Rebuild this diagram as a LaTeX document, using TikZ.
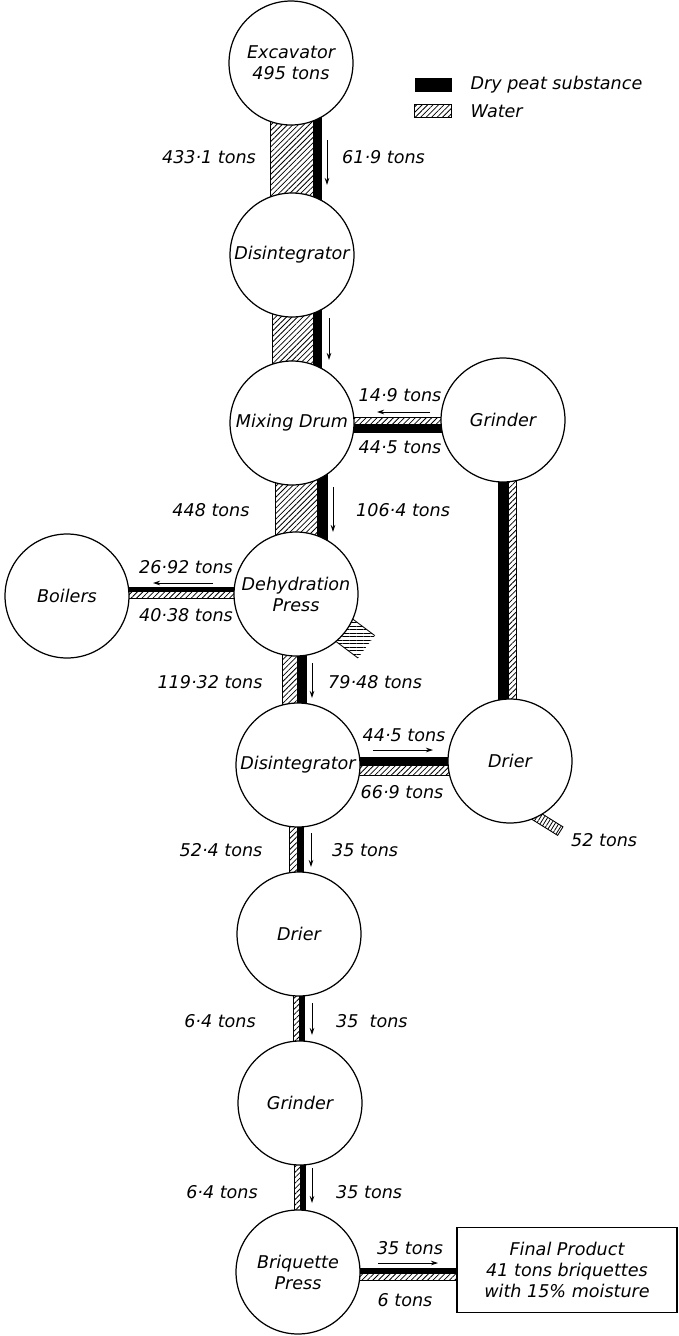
\documentclass[tikz,border=0pt]{standalone}
\usepackage{fontspec}
\setmainfont{DejaVu Sans}
\usepackage{tikz}
\usetikzlibrary{positioning, calc, backgrounds, patterns.meta, arrows.meta}

\begin{document}
\begin{tikzpicture}[
		x=0.02cm, y=-0.02cm,
		font=\itshape\fontsize{10}{12}\selectfont,
		unit/.style={circle, draw, line width=0.7pt, fill=white, minimum size=2.48cm, inner sep=0pt, align=center},
		water/.style={draw, line width=0.5pt, pattern={Lines[angle=45, distance=2.2pt, line width=0.45pt]}},
		peat/.style={fill=black},
		flow/.style={-{Stealth[length=4pt, width=2.6pt]}, line width=0.5pt},
		key/.style={minimum width=0.74cm, minimum height=0.27cm, inner sep=0pt},
		]
		\useasboundingbox (0,0) rectangle (679,1336);
		% Plant units
		\node[unit] (exc) at (291,63) {Excavator\\495 tons};
		\node[unit] (dis1) at (292,255) {Disintegrator};
		\node[unit] (mix) at (292,423) {Mixing Drum};
		\node[unit] (grd1) at (503,420) {Grinder};
		\node[unit] (dhp) at (296,594) {Dehydration\\Press};
		\node[unit] (boil) at (67,596) {Boilers};
		\node[unit] (dis2) at (298,765) {Disintegrator};
		\node[unit] (dry1) at (510,761) {Drier};
		\node[unit] (dry2) at (299,934) {Drier};
		\node[unit] (grd2) at (300,1103) {Grinder};
		\node[unit] (brq) at (298,1272) {Briquette\\Press};
		\node[draw, line width=0.7pt, fill=white, align=center, minimum width=4.4cm, minimum height=1.7cm] (final) at (567,1270) {Final Product\\41 tons briquettes\\with 15\% moisture};
		% Legend
		\node[key, fill=black] (keyp) at (433,85) {};
		\node[key, water] (keyw) at (433,111) {};
		\node[right=0.25cm of keyp] (keyptxt) {Dry peat substance};
		\node[right=0.25cm of keyw] (keywtxt) {Water};
		% Streams between the units
		\begin{scope}[on background layer]
			% water left, dry peat right (offsets from upper unit)
			\foreach \a/\b/\xl/\xm/\xr in {exc/dis1/-21/22/31, dis1/mix/-20/21/30, mix/dhp/-17/25/36, dhp/dis2/-14/1/11, dis2/dry2/-9/-1/6, dry2/grd2/-6/0/6, grd2/brq/-6/0/6} {
				\draw[water] ($(\a)+(\xl,0)$) rectangle ($(\a|-\b)+(\xm,0)$);
				\fill[peat] ($(\a)+(\xm,0)$) rectangle ($(\a|-\b)+(\xr,0)$);
			}
			% Grinder back to mixing drum
			\draw[water] ($(mix)+(0,-6)$) rectangle ($(grd1|-mix)+(0,1)$);
			\fill[peat] ($(mix)+(0,1)$) rectangle ($(grd1|-mix)+(0,10)$);
			% Drier up to grinder
			\fill[peat] ($(grd1)+(-5,0)$) rectangle ($(grd1|-dry1)+(5,0)$);
			\draw[water] ($(grd1)+(5,0)$) rectangle ($(grd1|-dry1)+(13,0)$);
			% Press to boilers
			\fill[peat] ($(boil|-dhp)+(0,-7)$) rectangle ($(dhp)+(0,-3)$);
			\draw[water] ($(boil|-dhp)+(0,-3)$) rectangle ($(dhp)+(0,4)$);
			% Disintegrator to drier
			\fill[peat] ($(dis2)+(0,-8)$) rectangle ($(dry1|-dis2)+(0,0)$);
			\draw[water] ($(dis2)+(0,0)$) rectangle ($(dry1|-dis2)+(0,10)$);
			% Briquette press to final product
			\fill[peat] ($(brq)+(0,-4)$) rectangle ($(final.west|-brq)+(0,1)$);
			\draw[water] ($(brq)+(0,1)$) rectangle ($(final.west|-brq)+(0,8)$);
			% Water let off
			\path[pattern={Lines[angle=0, distance=2pt, line width=0.45pt]}] ($(dhp)+(23.6,35.2)$) -- ($(dhp)+(62,64)$) -- ($(dhp)+(78.8,41.6)$) -- ($(dhp)+(40.4,12.8)$) -- cycle;
			\draw[line width=0.5pt] ($(dhp)+(23.6,35.2)$) -- ($(dhp)+(62,64)$);
			\draw[line width=0.5pt] ($(dhp)+(40.4,12.8)$) -- ($(dhp)+(78.8,41.6)$);
			\draw[line width=0.5pt, pattern={Lines[angle=58, distance=1.8pt, line width=0.45pt]}] ($(dry1)+(15.35,54.25)$) -- ($(dry1)+(47.65,74.35)$) -- ($(dry1)+(52.95,65.85)$) -- ($(dry1)+(20.65,45.75)$) -- cycle;
		\end{scope}
		% Flow arrows
		\foreach \a/\x/\ya/\yb in {exc/36/77/122, dis1/37/63/105, mix/41/64/109, dhp/16/69/104, dis2/13/68/102, dry2/13/69/101, grd2/12/65/100} {
			\draw[flow] ($(\a)+(\x,\ya)$) -- ($(\a)+(\x,\yb)$);
		}
		\draw[flow] ($(mix)+(138,-11)$) -- ($(mix)+(85,-11)$);
		\draw[flow] ($(dhp)+(-83,-11)$) -- ($(dhp)+(-143,-11)$);
		\draw[flow] ($(dis2)+(75,-15)$) -- ($(dis2)+(135,-15)$);
		\draw[flow] ($(brq)+(80,-9)$) -- ($(brq)+(140,-9)$);
		% Tonnages
		\foreach \n/\x/\y/\t in {t1/209/157/433·1 tons, t2/211/510/448 tons, t3/400/395/14·9 tons, t4/400/447/44·5 tons, t5/186/567/26·92 tons, t6/186/615/40·38 tons, t7/210/682/119·32 tons, t8/404/735/44·5 tons, t9/402/792/66·9 tons, t10/221/850/52·4 tons, t11/220/1021/6·4 tons, t12/222/1192/6·4 tons, t13/410/1248/35 tons, t14/405/1300/6 tons} {
			\node (\n) at (\x,\y) {\t};
		}
		\foreach \n/\x/\y/\t in {r1/336/157/61·9 tons, r2/350/510/106·4 tons, r3/322/682/79·48 tons, r4/565/840/52 tons, r5/326/850/35 tons, r6/330/1021/35\ \ tons, r7/330/1192/35 tons} {
			\node[anchor=west] (\n) at (\x,\y) {\t};
		}
	\end{tikzpicture}
\end{document}
